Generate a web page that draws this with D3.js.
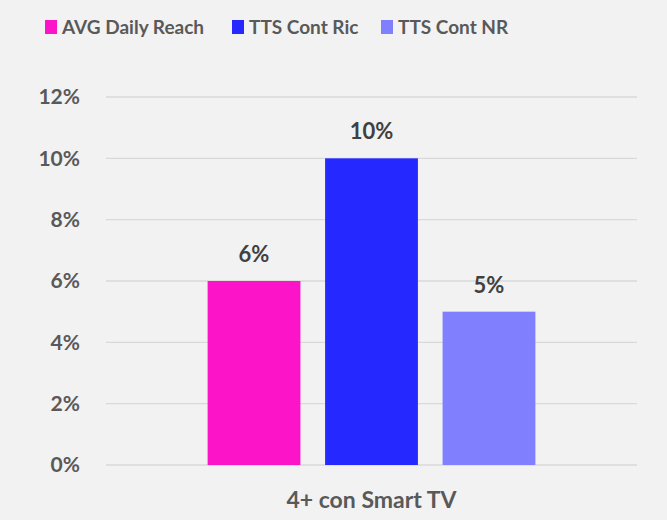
<!DOCTYPE html>
<html>
<head>
<meta charset="utf-8">
<script src="https://cdn.jsdelivr.net/npm/d3@7"></script>
<style>
  body { margin: 0; background: #f2f2f2; }
  svg { display: block; }
  svg text { font-family: Lato, "Open Sans", sans-serif; font-weight: 700; }
</style>
</head>
<body>
<div id="chart-container"></div>
<script>
const categories = ["4+ con Smart TV"];
const seriesNames = ["AVG Daily Reach", "TTS Cont Ric", "TTS Cont NR"];
const seriesColors = ["#fb14c8", "#2529ff", "#8080ff"];
const values = [0.06, 0.10, 0.05];
const yTicks = [0, 0.02, 0.04, 0.06, 0.08, 0.10, 0.12];

const MARGIN = { left: 106, right: 30, top: 97, bottom: 55 };
const WIDTH = 667 - MARGIN.left - MARGIN.right;
const HEIGHT = 520 - MARGIN.top - MARGIN.bottom;

const svg = d3.select("#chart-container").append("svg")
  .attr("width", 667)
  .attr("height", 520);

const g = svg.append("g")
  .attr("transform", `translate(${MARGIN.left},${MARGIN.top})`);

const x0 = d3.scaleBand()
  .domain(categories)
  .range([0, WIDTH])
  .paddingInner(0)
  .paddingOuter(0.31);

const x1 = d3.scaleBand()
  .domain(seriesNames)
  .range([0, x0.bandwidth()])
  .paddingInner(0.21)
  .paddingOuter(0);

const y = d3.scaleLinear()
  .domain([0, 0.12])
  .range([HEIGHT, 0]);

const fmt = d3.format(".0%");

// gridlines
g.selectAll("line.grid")
  .data(yTicks)
  .enter().append("line")
  .attr("class", "grid")
  .attr("x1", 0)
  .attr("x2", WIDTH)
  .attr("y1", d => y(d))
  .attr("y2", d => y(d))
  .attr("stroke", "#d9d9d9")
  .attr("stroke-width", 1.3);

// y axis
const yAxisGroup = g.append("g")
  .call(d3.axisLeft(y).tickValues(yTicks).tickFormat(fmt).tickSize(0).tickPadding(26));
yAxisGroup.select(".domain").remove();
yAxisGroup.selectAll("text")
  .attr("fill", "#595959")
  .style("font-size", "21px");

// bars
const groups = g.selectAll("g.cat")
  .data(categories)
  .enter().append("g")
  .attr("class", "cat")
  .attr("transform", d => `translate(${x0(d)},0)`);

groups.selectAll("rect")
  .data(seriesNames.map((s, i) => ({ s, v: values[i], c: seriesColors[i] })))
  .enter().append("rect")
  .attr("x", d => x1(d.s))
  .attr("width", x1.bandwidth())
  .attr("y", d => y(d.v))
  .attr("height", d => HEIGHT - y(d.v))
  .attr("fill", d => d.c);

groups.selectAll("text.val")
  .data(seriesNames.map((s, i) => ({ s, v: values[i] })))
  .enter().append("text")
  .attr("class", "val")
  .attr("x", d => x1(d.s) + x1.bandwidth() / 2)
  .attr("y", d => y(d.v) - 19)
  .attr("text-anchor", "middle")
  .attr("fill", "#404040")
  .style("font-size", "22px")
  .text(d => fmt(d.v));

// x axis label
const xAxisGroup = g.append("g")
  .attr("transform", `translate(0,${HEIGHT})`)
  .call(d3.axisBottom(x0).tickSize(0).tickPadding(27));
xAxisGroup.select(".domain").remove();
xAxisGroup.selectAll("text")
  .attr("fill", "#595959")
  .style("font-size", "23px");

// legend
const legendX = [45, 232, 381];
const legend = svg.selectAll("g.legend")
  .data(seriesNames)
  .enter().append("g")
  .attr("class", "legend")
  .attr("transform", (d, i) => `translate(${legendX[i]},20)`);

legend.append("rect")
  .attr("width", 12)
  .attr("height", 14)
  .attr("fill", (d, i) => seriesColors[i]);

legend.append("text")
  .attr("x", 17)
  .attr("y", 14)
  .attr("fill", "#595959")
  .style("font-size", "19px")
  .text(d => d);
</script>
</body>
</html>
